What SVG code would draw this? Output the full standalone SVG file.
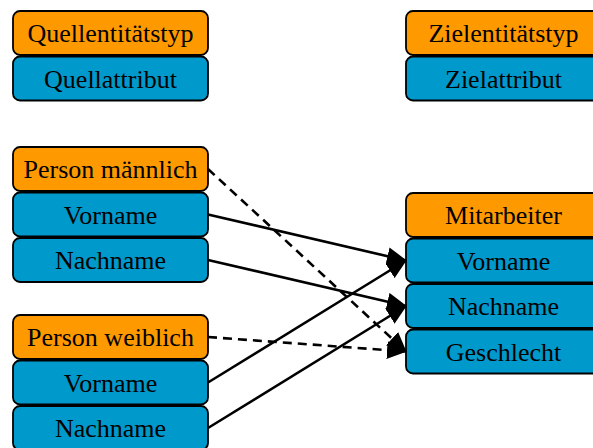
<svg xmlns="http://www.w3.org/2000/svg" width="593" height="448" viewBox="0 0 593 448">
<style>
.o{fill:#ff9900;stroke:#000;stroke-width:1.8}
.b{fill:#0099cc;stroke:#000;stroke-width:1.8}
text{font-family:"Liberation Serif","Times New Roman",serif;font-size:26px;text-anchor:middle;fill:#000}
.c{stroke:#000;stroke-width:2.6;fill:none;marker-end:url(#ah)}
.d{stroke-dasharray:9,6}
</style>
<defs>
<marker id="ah" markerUnits="userSpaceOnUse" markerWidth="20" markerHeight="18" refX="19" refY="9" orient="auto">
<path d="M0,0 L20,9 L0,18 z" fill="#000"/>
</marker>
</defs>
<g id="legend-source">
<rect class="o" x="13" y="11" width="195" height="44" rx="7"/>
<text x="110.5" y="42">Quellentitätstyp</text>
<rect class="b" x="13" y="56.5" width="195" height="44" rx="7"/>
<text x="110.5" y="87.5">Quellattribut</text>
</g>
<g id="legend-target">
<rect class="o" x="406" y="11" width="195" height="44" rx="7"/>
<text x="503.5" y="42">Zielentitätstyp</text>
<rect class="b" x="406" y="56.5" width="195" height="44" rx="7"/>
<text x="503.5" y="87.5">Zielattribut</text>
</g>
<g id="person-maennlich">
<rect class="o" x="13" y="147" width="195" height="44" rx="7"/>
<text x="110.5" y="178">Person männlich</text>
<rect class="b" x="13" y="192.5" width="195" height="44" rx="7"/>
<text x="110.5" y="223.5">Vorname</text>
<rect class="b" x="13" y="238" width="195" height="44" rx="7"/>
<text x="110.5" y="269">Nachname</text>
</g>
<g id="person-weiblich">
<rect class="o" x="13" y="315" width="195" height="44" rx="7"/>
<text x="110.5" y="346">Person weiblich</text>
<rect class="b" x="13" y="360.5" width="195" height="44" rx="7"/>
<text x="110.5" y="391.5">Vorname</text>
<rect class="b" x="13" y="406" width="195" height="44" rx="7"/>
<text x="110.5" y="437">Nachname</text>
</g>
<g id="mitarbeiter">
<rect class="o" x="406" y="193" width="195" height="44" rx="7"/>
<text x="503.5" y="224">Mitarbeiter</text>
<rect class="b" x="406" y="238.5" width="195" height="44" rx="7"/>
<text x="503.5" y="269.5">Vorname</text>
<rect class="b" x="406" y="284" width="195" height="44" rx="7"/>
<text x="503.5" y="315">Nachname</text>
<rect class="b" x="406" y="329.5" width="195" height="44" rx="7"/>
<text x="503.5" y="360.5">Geschlecht</text>
</g>
<g id="connectors">
<line class="c" x1="208" y1="214.5" x2="406" y2="260.5"/>
<line class="c" x1="208" y1="260" x2="406" y2="306"/>
<line class="c d" x1="208" y1="169" x2="406" y2="351.5"/>
<line class="c d" x1="208" y1="337" x2="406" y2="351.5"/>
<line class="c" x1="208" y1="382.5" x2="406" y2="260.5"/>
<line class="c" x1="208" y1="428" x2="406" y2="306"/>
</g>
</svg>
